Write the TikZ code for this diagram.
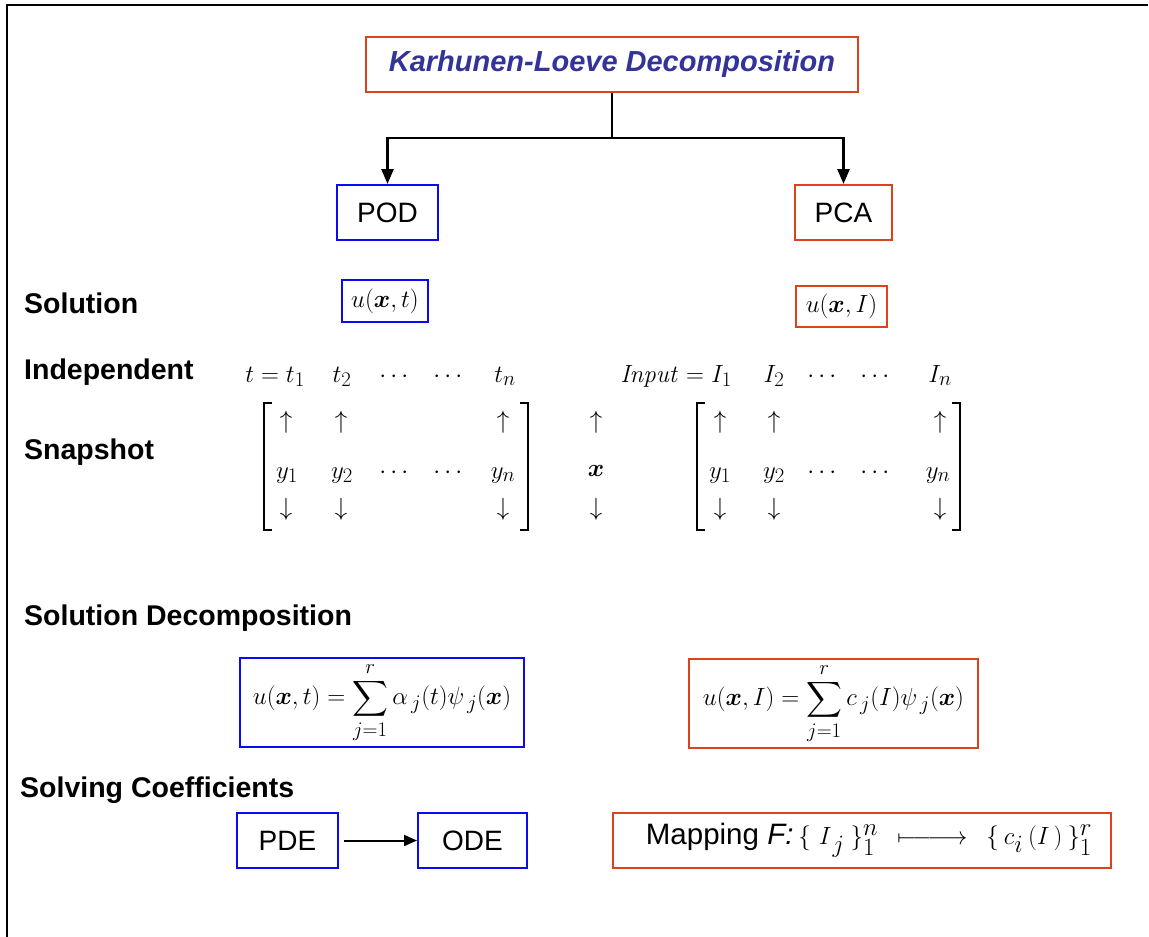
\documentclass[tikz,border=0pt]{standalone}
\usepackage{amsmath}
\usepackage{bm}
\usepackage[no-math]{fontspec}
\setmainfont{Liberation Sans}
\usetikzlibrary{arrows.meta}

\definecolor{podblue}{RGB}{10,10,245}
\definecolor{pcared}{RGB}{222,66,26}
\definecolor{titleblue}{RGB}{51,51,153}

\newcommand{\lab}{\fontsize{28.5}{34}\selectfont\bfseries}
\newcommand{\mth}{\fontsize{29}{35}\selectfont}
\newcommand{\bigmth}{\fontsize{32}{38}\selectfont}
\newcommand{\decmth}{\fontsize{30}{36}\selectfont}
\newcommand{\widemapsto}{\mapstochar\relbar\joinrel\relbar\joinrel\relbar\joinrel\rightarrow}

\tikzset{
  box/.style={draw, line width=2pt, inner sep=0pt, align=center},
  bluebox/.style={box, draw=podblue},
  redbox/.style={box, draw=pcared},
  rowlabel/.style={anchor=base west, inner sep=0pt, font=\lab},
  entry/.style={anchor=base, inner sep=0pt, font=\mth},
  conn/.style={line width=2.5pt, draw=black},
  tip/.style={-{Triangle[length=15pt,width=12pt]}},
  bracket/.style={line width=1.3pt}
}

\begin{document}
\begin{tikzpicture}[x=1pt, y=-1pt]
\useasboundingbox (0,0) rectangle (1149,937);

% outer frame (left and top edges)
\draw[line width=2.5pt] (7,937) -- (7,5) -- (1148,5);

% top level
\node[redbox, minimum width=492pt, minimum height=55pt,
      font=\fontsize{29}{34}\selectfont\bfseries\itshape, text=titleblue]
  (kl) at (612,64.5) {Karhunen-Loeve Decomposition};
\node[bluebox, minimum width=101pt, minimum height=55pt,
      font=\fontsize{28}{34}\selectfont] (pod) at (387.5,212.5) {POD};
\node[redbox, minimum width=97pt, minimum height=55pt,
      font=\fontsize{28}{34}\selectfont] (pca) at (843.5,212.5) {PCA};

\coordinate (split) at (612,138);
\draw[conn] (kl.south) -- (split);
\draw[conn, tip] (split) -| (pod.north);
\draw[conn, tip] (split) -| (pca.north);

% row labels
\node[rowlabel] (lsol) at (24,313) {Solution};
\node[rowlabel] (lind) at (24,379) {Independent};
\node[rowlabel] (lsnap) at (24,459) {Snapshot};
\node[rowlabel] (ldec) at (24,625) {Solution Decomposition};
\node[rowlabel] (lcoef) at (20,797) {Solving Coefficients};

% solutions
\node[bluebox, minimum width=86pt, minimum height=42pt, font=\bigmth]
  (solpod) at (385,301) {$u(\bm{x},t)$};
\node[redbox, minimum width=91pt, minimum height=41pt, font=\bigmth]
  (solpca) at (841.5,306.5) {$u(\bm{x},I)$};

% independent variables
\node[entry, anchor=base east] (t1) at (305,382) {$t=t_1$};
\node[entry] (t2) at (342,382) {$t_2$};
\node[entry] (td1) at (396,382) {$\cdots$};
\node[entry] (td2) at (450,382) {$\cdots$};
\node[entry] (tn) at (505,382) {$t_n$};

\node[entry, anchor=base east] (i1) at (732,382) {$\mathit{Input}=I_1$};
\node[entry] (i2) at (774,382) {$I_2$};
\node[entry] (id1) at (824,382) {$\cdots$};
\node[entry] (id2) at (877,382) {$\cdots$};
\node[entry] (in) at (940,382) {$I_n$};

% snapshot matrix for POD
\draw[bracket] (272,403) -- (264,403) -- (264,530) -- (272,530);
\draw[bracket] (520,403) -- (528,403) -- (528,530) -- (520,530);
\node[entry] (pu1) at (286,428) {$\uparrow$};
\node[entry] (pu2) at (341,428) {$\uparrow$};
\node[entry] (pun) at (503,428) {$\uparrow$};
\node[entry] (py1) at (287,478) {$y_1$};
\node[entry] (py2) at (342,478) {$y_2$};
\node[entry] (pd1) at (396,478) {$\cdots$};
\node[entry] (pd2) at (450,478) {$\cdots$};
\node[entry] (pyn) at (503,478) {$y_n$};
\node[entry] (pl1) at (286,515) {$\downarrow$};
\node[entry] (pl2) at (341,515) {$\downarrow$};
\node[entry] (pln) at (503,515) {$\downarrow$};

% spatial coordinate column
\node[entry] (xu) at (596,428) {$\uparrow$};
\node[entry] (xx) at (596,476) {$\bm{x}$};
\node[entry] (xd) at (596,515) {$\downarrow$};

% snapshot matrix for PCA
\draw[bracket] (705,403) -- (697,403) -- (697,530) -- (705,530);
\draw[bracket] (952,403) -- (960,403) -- (960,530) -- (952,530);
\node[entry] (cu1) at (720,428) {$\uparrow$};
\node[entry] (cu2) at (774,428) {$\uparrow$};
\node[entry] (cun) at (940,428) {$\uparrow$};
\node[entry] (cy1) at (720,478) {$y_1$};
\node[entry] (cy2) at (774,478) {$y_2$};
\node[entry] (cd1) at (824,478) {$\cdots$};
\node[entry] (cd2) at (877,478) {$\cdots$};
\node[entry] (cyn) at (938,478) {$y_n$};
\node[entry] (cl1) at (720,515) {$\downarrow$};
\node[entry] (cl2) at (774,515) {$\downarrow$};
\node[entry] (cln) at (940,515) {$\downarrow$};

% decompositions
\node[bluebox, minimum width=284pt, minimum height=89pt, font=\decmth]
  (decpod) at (382,702.5)
  {$\displaystyle u(\bm{x},t)=\sum_{j=1}^{r}\alpha_{\,j}(t)\psi_{\,j}(\bm{x})$};
\node[redbox, minimum width=289pt, minimum height=89pt, font=\decmth]
  (decpca) at (833.5,703.5)
  {$\displaystyle u(\bm{x},I)=\sum_{j=1}^{r}c_{\,j}(I)\psi_{\,j}(\bm{x})$};

% coefficients
\node[bluebox, minimum width=101pt, minimum height=55pt,
      font=\fontsize{28}{34}\selectfont] (pde) at (287.5,840.5) {PDE};
\node[bluebox, minimum width=109pt, minimum height=55pt,
      font=\fontsize{28}{34}\selectfont] (ode) at (472.5,840.5) {ODE};
\draw[line width=2pt, -{Triangle[length=13pt,width=11pt]}]
  ([xshift=5pt]pde.east) -- (ode.west);

\node[redbox, minimum width=498pt, minimum height=55pt,
      font=\fontsize{29.5}{34}\selectfont] (map) at (862,840.5)
  {\hspace{14pt}Mapping \textit{F:}\hspace{5pt}{\fontsize{35}{40}\selectfont
   $\{\hspace{8pt}I_{\hspace{3pt}j}\hspace{6pt}\}_1^n\hspace{12pt}\widemapsto\hspace{12pt}%
    \{\hspace{5pt}c_i\hspace{5pt}(I\hspace{4pt})\hspace{5pt}\}_1^r$}};
\end{tikzpicture}
\end{document}
